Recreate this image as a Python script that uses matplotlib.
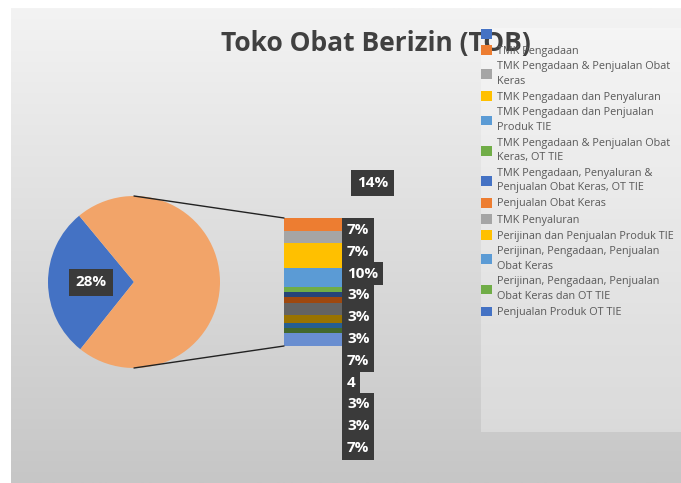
import numpy as np
import matplotlib.pyplot as plt
from matplotlib.colors import LinearSegmentedColormap
from matplotlib.patches import Patch, Rectangle, ConnectionPatch

W, H = 681, 483

# data
categories = ["", "TMK Pengadaan", "TMK Pengadaan & Penjualan Obat\nKeras",
              "TMK Pengadaan dan Penyaluran", "TMK Pengadaan dan Penjualan\nProduk TIE",
              "TMK Pengadaan & Penjualan Obat\nKeras, OT TIE",
              "TMK Pengadaan, Penyaluran &\nPenjualan Obat Keras, OT TIE",
              "Penjualan Obat Keras", "TMK Penyaluran", "Perijinan dan Penjualan Produk TIE",
              "Perijinan, Pengadaan, Penjualan\nObat Keras",
              "Perijinan, Pengadaan, Penjualan\nObat Keras dan OT TIE",
              "Penjualan Produk OT TIE"]
pie_value = 28
bar_values = [7, 7, 14, 10, 3, 3, 3, 7, 4, 3, 3, 7]
bar_labels = ["7%", "7%", "14%", "10%", "3%", "3%", "3%", "7%", "4", "3%", "3%", "7%"]

bar_colors = ["#ED7D31", "#A5A5A5", "#FFC000", "#5B9BD5", "#70AD47", "#264478",
              "#9E480E", "#636363", "#997300", "#255E91", "#43682B", "#698ED0"]
legend_colors = ["#4472C4", "#ED7D31", "#A5A5A5", "#FFC000", "#5B9BD5", "#70AD47"] * 2 + ["#4472C4"]


def box(x0, y0, x1, y1):
    return [x0 / W, 1 - y1 / H, (x1 - x0) / W, (y1 - y0) / H]


fig = plt.figure(figsize=(W / 100, H / 100), dpi=100)

# gradient background
bg = fig.add_axes(box(11, 8, 681, 483), zorder=-10)
grad = np.linspace(0, 1, 256)[:, None]
bg.imshow(grad, cmap=LinearSegmentedColormap.from_list("g", ["#f3f3f3", "#c6c6c6"]),
          aspect="auto", extent=[0, 1, 0, 1])
bg.axis("off")
fig.patches.append(Rectangle((481 / W, 1 - 432 / H), 200 / W, (432 - 28) / H, facecolor="white",
                             alpha=0.3, edgecolor="none", transform=fig.transFigure, zorder=-5))

# pie
ax_pie = fig.add_axes(box(48, 196, 220, 368))
other = sum(bar_values)
ax_pie.pie([pie_value, other], colors=["#4472C4", "#F2A469"], startangle=180 - pie_value * 1.8,
           autopct=lambda p: "%d%%" % round(p) if p < 50 else "", pctdistance=0.5,
           textprops=dict(color="white", fontsize=11, fontweight="bold", family="Open Sans"),
           wedgeprops=dict(linewidth=0))
for t in ax_pie.texts:
    if t.get_text():
        t.set_bbox(dict(boxstyle="square,pad=0.45", facecolor="#3a3a3a", edgecolor="none"))
ax_pie.set_xlim(-1, 1)
ax_pie.set_ylim(-1, 1)
ax_pie.set_aspect("equal")

# bar of pie
ax_bar = fig.add_axes(box(284, 218, 343, 346))
bottoms = other - np.cumsum(bar_values)
ax_bar.bar(0, bar_values, bottom=bottoms, width=1, color=bar_colors, linewidth=0)
ax_bar.set_xlim(-0.5, 0.5)
ax_bar.set_ylim(0, other)
ax_bar.axis("off")

for yp, yb in [(1, other), (-1, 0)]:
    con = ConnectionPatch(xyA=(0, yp), coordsA=ax_pie.transData, xyB=(-0.5, yb), coordsB=ax_bar.transData,
                          color="#222222", linewidth=1)
    fig.add_artist(con)

# data labels
lab_style = dict(color="white", fontsize=11, fontweight="bold", family="Open Sans", va="center", ha="left")
col_labels = [l for i, l in enumerate(bar_labels) if i != 2]
for i, lab in enumerate(col_labels):
    y = 230 + 21.8 * i
    fig.text(347 / W, 1 - y / H, lab, bbox=dict(boxstyle="square,pad=0.3", facecolor="#3a3a3a",
                                                   edgecolor="none"), **lab_style)
fig.text(357 / W, 1 - 183 / H, bar_labels[2], bbox=dict(boxstyle="square,pad=0.4", facecolor="#3a3a3a",
                                                         edgecolor="none"), **lab_style)

# title
fig.text(376 / W, 1 - 44 / H, "Toko Obat Berizin (TOB)", ha="center", va="center", fontsize=19,
         fontweight="bold", family="Open Sans", color="#404040", zorder=3)

handles = [Patch(facecolor=c) for c in legend_colors]
leg = fig.legend(handles, categories, loc="upper left", bbox_to_anchor=(481 / W, 1 - 29 / H),
                 frameon=False, handlelength=1.0, handleheight=1.0, handletextpad=0.45,
                 labelspacing=0.42, borderaxespad=0, borderpad=0, prop=dict(family="Open Sans", size=7.8),
                 labelcolor="#595959")
for t in leg.get_texts():
    t.set_linespacing(1.45)
leg.set_zorder(5)

fig.savefig("out.png", dpi=100)
